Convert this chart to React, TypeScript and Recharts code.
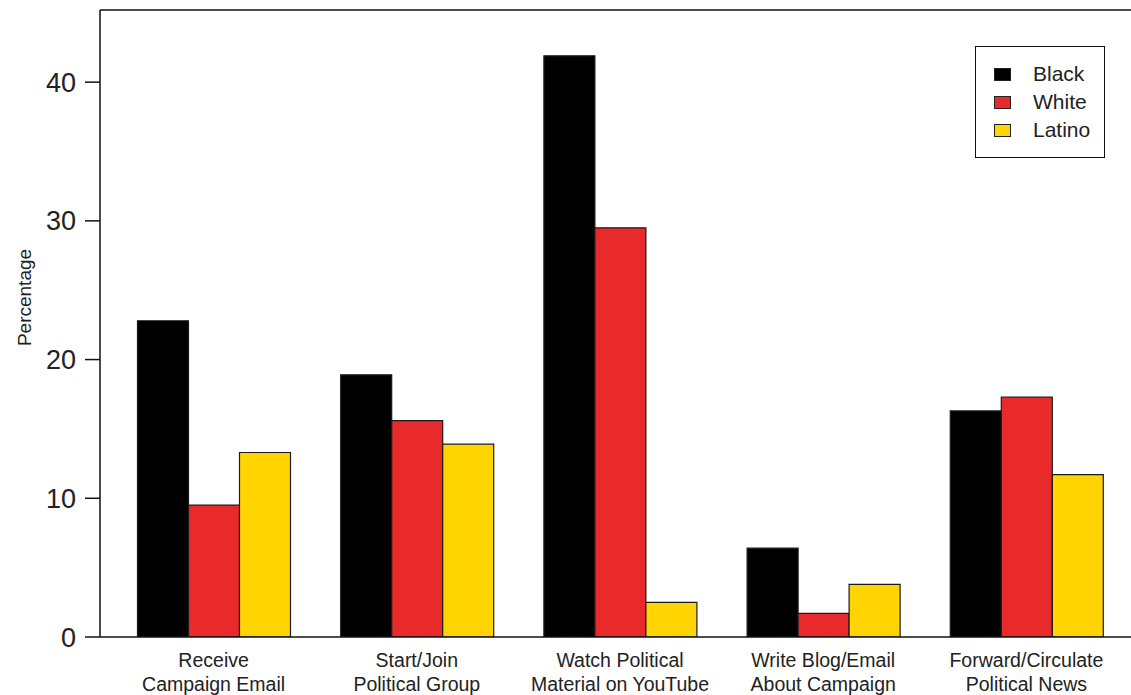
import { Bar, BarChart, Legend, ReferenceLine, XAxis, YAxis } from 'recharts'

const CATEGORIES = [
  'Receive\nCampaign Email',
  'Start/Join\nPolitical Group',
  'Watch Political\nMaterial on YouTube',
  'Write Blog/Email\nAbout Campaign',
  'Forward/Circulate\nPolitical News',
]
const BLACK_VALUES = [22.8, 18.9, 41.9, 6.4, 16.3]
const WHITE_VALUES = [9.5, 15.6, 29.5, 1.7, 17.3]
const LATINO_VALUES = [13.3, 13.9, 2.5, 3.8, 11.7]
const Y_TICKS = [0, 10, 20, 30, 40]
const Y_MAX = 45.2

const FONT = '"Liberation Sans", Arial, sans-serif'
const INK = '#111'

const SERIES = [
  { key: 'black', name: 'Black', color: '#000000' },
  { key: 'white', name: 'White', color: '#E92A2B' },
  { key: 'latino', name: 'Latino', color: '#FFD400' },
]

const data = CATEGORIES.map((name, i) => ({
  name,
  black: BLACK_VALUES[i],
  white: WHITE_VALUES[i],
  latino: LATINO_VALUES[i],
}))

function CategoryTick({ x, y, payload }: any) {
  const lines = String(payload.value).split('\n')
  return (
    <text x={x} y={y} textAnchor="middle" fontSize={19.5} fill="#222" fontFamily={FONT}>
      {lines.map((line, i) => (
        <tspan key={line} x={x} dy={i === 0 ? 29.5 : 24}>
          {line}
        </tspan>
      ))}
    </text>
  )
}

function YTitle({ viewBox }: any) {
  const cx = 31
  const cy = viewBox.y + viewBox.height / 2 - 26
  return (
    <text
      x={cx}
      y={cy}
      textAnchor="middle"
      fontSize={19}
      fill="#222"
      fontFamily={FONT}
      transform={`rotate(-90 ${cx} ${cy})`}
    >
      Percentage
    </text>
  )
}

function LegendBox() {
  return (
    <div
      style={{
        boxSizing: 'border-box',
        width: 130,
        height: 112,
        border: `1.5px solid ${INK}`,
        background: '#fff',
        padding: '13px 0 0 18px',
        fontFamily: FONT,
        fontSize: 21,
        color: '#222',
      }}
    >
      {SERIES.map((s) => (
        <div key={s.key} style={{ display: 'flex', alignItems: 'center', height: 28 }}>
          <span
            style={{
              boxSizing: 'border-box',
              width: 17,
              height: 13,
              background: s.color,
              border: '1px solid #222',
              marginRight: 22,
            }}
          />
          <span>{s.name}</span>
        </div>
      ))}
    </div>
  )
}

export default function App() {
  return (
    <div style={{ position: 'absolute', left: 0, top: 0, width: 1131, height: 695, background: '#fff' }}>
      <BarChart
        width={1131}
        height={695}
        data={data}
        margin={{ top: 10, right: 0, bottom: 0, left: 0 }}
        barCategoryGap={25.5}
        barGap={0}
      >
        <XAxis
          dataKey="name"
          interval={0}
          height={58}
          padding={{ left: 12, right: 3 }}
          tickLine={false}
          tickSize={0}
          tickMargin={0}
          axisLine={{ stroke: INK, strokeWidth: 1.5 }}
          tick={<CategoryTick />}
        />
        <YAxis
          type="number"
          domain={[0, Y_MAX]}
          ticks={Y_TICKS}
          allowDataOverflow
          width={100}
          tickSize={15}
          tickMargin={9}
          axisLine={{ stroke: INK, strokeWidth: 1.5 }}
          tickLine={{ stroke: INK, strokeWidth: 1.5 }}
          tick={{ fontSize: 27, fill: '#222', fontFamily: FONT }}
          label={<YTitle />}
        />
        <ReferenceLine y={Y_MAX} stroke={INK} strokeWidth={1.5} />
        {SERIES.map((s) => (
          <Bar
            key={s.key}
            dataKey={s.key}
            name={s.name}
            fill={s.color}
            stroke="#1a1a1a"
            strokeWidth={1.2}
            isAnimationActive={false}
          />
        ))}
        <Legend
          layout="horizontal"
          verticalAlign="middle"
          align="center"
          content={<LegendBox />}
          wrapperStyle={{ position: 'absolute', left: 975, top: 46, width: 130, height: 112 }}
        />
      </BarChart>
    </div>
  )
}
